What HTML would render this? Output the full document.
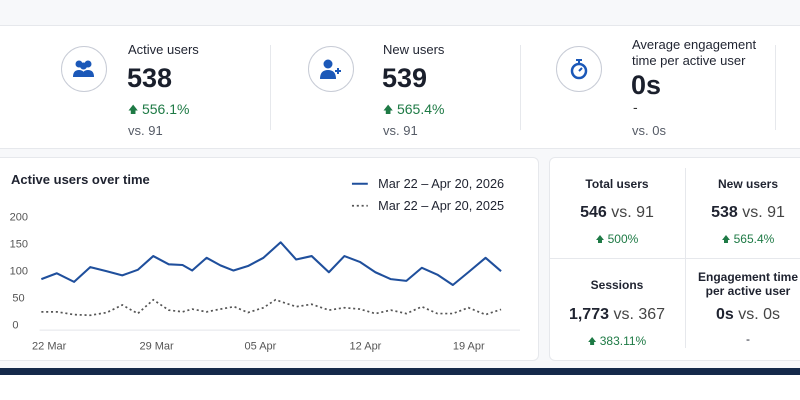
<!DOCTYPE html>
<html><head><meta charset="utf-8"><style>
body{margin:0;width:800px;height:400px;background:#f7f8fa;position:relative;overflow:hidden;font-family:"Liberation Sans",sans-serif;color:#1f2330}
.a{position:absolute}
.top{left:0;top:25px;width:800px;height:122px;background:#fff;border-top:1px solid #e6e8ec;border-bottom:1px solid #e6e8ec}
.ic{width:44px;height:44px;border-radius:50%;border:1px solid #c8ccd6;background:#fff;display:flex;align-items:center;justify-content:center}
.lbl{font-size:13px;color:#1f2330}
.big{font-size:27px;font-weight:bold;color:#1a1f2c}
.gr{font-size:14px;color:#1e7a45}
.vs{font-size:13px;color:#555b66}
.vd{width:1px;background:#e6e8ec}
.card{background:#fff;border:1px solid #e6e8ec;border-radius:6px}
.c{text-align:center;width:136px}
.ar{font-size:0.7em;vertical-align:1px}
</style></head><body>
<div class="a top"></div>
<div class="a ic" style="left:61px;top:46px"><svg width="26" height="22" viewBox="0 0 26 22"><circle cx="8" cy="6" r="3.5" fill="#1b58b8"/><circle cx="17" cy="6" r="3.5" fill="#1b58b8"/><circle cx="12.5" cy="8" r="3.5" fill="#1b58b8"/><path d="M2 19q0-7 6-7 6 0 6 7zM11 19q0-7 6-7 6 0 6 7z" fill="#1b58b8"/></svg></div>
<div class="a ic" style="left:308px;top:46px"><svg width="24" height="22" viewBox="0 0 24 22"><circle cx="9" cy="6" r="4.5" fill="#1b58b8"/><path d="M1 21q0-9 8-9 8 0 8 9z" fill="#1b58b8"/><path d="M19 10v6M16 13h6" stroke="#1b58b8" stroke-width="2"/></svg></div>
<div class="a ic" style="left:556px;top:46px"><svg width="20" height="24" viewBox="0 0 20 24"><circle cx="10" cy="14" r="7" fill="none" stroke="#1b58b8" stroke-width="2.5"/><path d="M7 3h6M10 3v4M10 14l3-3" stroke="#1b58b8" stroke-width="2"/></svg></div>
<div class="a lbl" style="left:128px;top:42px">Active users</div>
<div class="a big" style="left:127px;top:63px">538</div>
<div class="a gr" style="left:128px;top:101px"><span class="ar">🡅</span> 556.1%</div>
<div class="a vs" style="left:128px;top:123px">vs. 91</div>
<div class="a vd" style="left:270px;top:45px;height:85px"></div>
<div class="a lbl" style="left:383px;top:42px">New users</div>
<div class="a big" style="left:382px;top:63px">539</div>
<div class="a gr" style="left:383px;top:101px"><span class="ar">🡅</span> 565.4%</div>
<div class="a vs" style="left:383px;top:123px">vs. 91</div>
<div class="a vd" style="left:520px;top:45px;height:85px"></div>
<div class="a lbl" style="left:632px;top:37px;line-height:16px">Average engagement<br>time per active user</div>
<div class="a big" style="left:631px;top:70px">0s</div>
<div class="a gr" style="left:633px;top:99px;color:#333">-</div>
<div class="a vs" style="left:632px;top:123px">vs. 0s</div>
<div class="a vd" style="left:775px;top:45px;height:85px"></div>

<div class="a card" style="left:-6px;top:157px;width:543px;height:202px"></div>
<div class="a" style="left:11px;top:172px;font-size:13px;font-weight:bold">Active users over time</div>
<svg class="a" style="left:0;top:150px" width="540" height="250" viewBox="0 0 1568 726">
<g font-family="Liberation Sans" font-size="32" fill="#555">
<text x="28" y="205">200</text><text x="28" y="283">150</text><text x="28" y="361">100</text><text x="36" y="440">50</text><text x="36" y="518">0</text>
<text x="93" y="580">22 Mar</text><text x="405" y="580">29 Mar</text><text x="710" y="580">05 Apr</text><text x="1015" y="580">12 Apr</text><text x="1315" y="580">19 Apr</text>
</g>
<g font-family="Liberation Sans" font-size="37" fill="#1f2330"><text x="1098" y="110">Mar 22 – Apr 20, 2026</text><text x="1098" y="174">Mar 22 – Apr 20, 2025</text></g>
<line x1="1022" y1="98" x2="1068" y2="98" stroke="#1f4f9c" stroke-width="6"/>
<line x1="1022" y1="162" x2="1068" y2="162" stroke="#555" stroke-width="5" stroke-dasharray="6 8"/>
<line x1="115" y1="523" x2="1510" y2="523" stroke="#e3e5ea" stroke-width="3"/>
<polyline fill="none" stroke="#1f4f9c" stroke-width="6" stroke-linejoin="round" points="120,375 165,358 215,383 262,340 310,352 355,364 400,348 445,308 490,332 530,334 558,350 600,313 640,335 678,350 720,337 765,313 815,268 860,318 905,308 955,355 1000,308 1045,325 1090,355 1135,375 1180,380 1225,342 1270,362 1315,392 1360,355 1410,313 1455,352"/>
<polyline fill="none" stroke="#555" stroke-width="5" stroke-dasharray="6 8" points="120,470 165,470 215,478 262,480 310,472 355,450 400,475 445,435 490,465 530,470 558,462 600,470 640,462 680,455 720,472 765,458 800,435 860,455 905,448 955,465 1000,458 1045,462 1090,475 1135,465 1180,475 1225,455 1270,475 1315,475 1360,458 1410,478 1455,463"/>
</svg>

<div class="a card" style="left:549px;top:157px;width:260px;height:202px"></div>
<div class="a" style="left:550px;top:258px;width:250px;height:1px;background:#e6e8ec"></div>
<div class="a vd" style="left:685px;top:168px;height:180px"></div>
<div class="a c" style="left:549px;top:177px;font-size:12px;font-weight:bold">Total users</div>
<div class="a c" style="left:549px;top:204px;font-size:16px"><b>546</b> <span style="color:#444">vs. 91</span></div>
<div class="a c" style="left:549px;top:232px;font-size:12px;color:#1e7a45"><span class="ar">🡅</span> 500%</div>
<div class="a c" style="left:680px;top:177px;font-size:12px;font-weight:bold">New users</div>
<div class="a c" style="left:680px;top:204px;font-size:16px"><b>538</b> <span style="color:#444">vs. 91</span></div>
<div class="a c" style="left:680px;top:232px;font-size:12px;color:#1e7a45"><span class="ar">🡅</span> 565.4%</div>
<div class="a c" style="left:549px;top:278px;font-size:12px;font-weight:bold">Sessions</div>
<div class="a c" style="left:549px;top:306px;font-size:16px"><b>1,773</b> <span style="color:#444">vs. 367</span></div>
<div class="a c" style="left:549px;top:334px;font-size:12px;color:#1e7a45"><span class="ar">🡅</span> 383.11%</div>
<div class="a c" style="left:680px;top:270px;font-size:12px;font-weight:bold;line-height:14px">Engagement time<br>per active user</div>
<div class="a c" style="left:680px;top:306px;font-size:16px"><b>0s</b> <span style="color:#444">vs. 0s</span></div>
<div class="a c" style="left:680px;top:332px;font-size:12px">-</div>

<div class="a" style="left:0;top:368px;width:800px;height:7px;background:#14294a"></div>
<div class="a" style="left:0;top:375px;width:800px;height:25px;background:#fff"></div>
</body></html>
